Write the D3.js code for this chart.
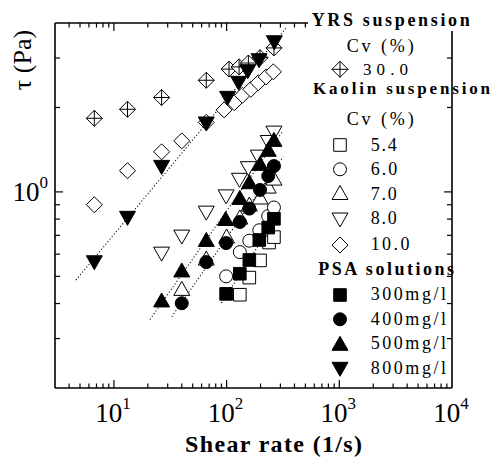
<!DOCTYPE html>
<html>
<head>
<meta charset="utf-8">
<script src="https://cdn.jsdelivr.net/npm/d3@7"></script>
<style>
  body { margin: 0; background: #fff; }
  svg { display: block; font-family: "Liberation Serif", "Times New Roman", serif; }
</style>
</head>
<body>
<svg width="491" height="458"></svg>
<script>
const svg = d3.select("svg");

// DATA (shear rate 1/s, shear stress Pa)
const yrs30X = [6.7, 13.2, 26.5, 66, 105, 129, 156, 198, 263];
const yrs30Y = [1.83, 1.97, 2.17, 2.50, 2.74, 2.79, 2.88, 3.01, 3.26];

const kao54X = [131, 159, 198, 238, 263];
const kao54Y = [0.43, 0.495, 0.57, 0.66, 0.69];
const kao60X = [99, 131, 159, 195, 234, 263];
const kao60Y = [0.50, 0.61, 0.67, 0.73, 0.82, 0.88];
const kao70X = [40, 66, 100, 131, 159, 198, 234, 263];
const kao70Y = [0.453, 0.581, 0.696, 0.814, 0.905, 0.959, 1.049, 1.12];
const kao80X = [26.5, 40, 66, 99, 130, 156, 191, 234, 263];
const kao80Y = [0.60, 0.69, 0.84, 0.96, 1.10, 1.21, 1.33, 1.50, 1.62];
const kao100X = [6.7, 13.2, 26.5, 40, 66, 95, 117, 138, 164, 191, 224, 260];
const kao100Y = [0.90, 1.19, 1.39, 1.52, 1.77, 1.96, 2.08, 2.21, 2.32, 2.45, 2.57, 2.68];

const psa300X = [99, 131, 159, 195, 234, 263];
const psa300Y = [0.433, 0.511, 0.572, 0.674, 0.746, 0.802];
const psa400X = [40, 66, 99, 131, 159, 198, 234, 263];
const psa400Y = [0.401, 0.562, 0.657, 0.781, 0.872, 1.016, 1.139, 1.236];
const psa500X = [26.5, 40, 66, 98, 131, 159, 198, 234, 263];
const psa500Y = [0.412, 0.527, 0.677, 0.804, 0.956, 1.087, 1.264, 1.418, 1.539];
const psa800X = [6.7, 13.2, 26.5, 66, 102, 128, 154, 194, 265];
const psa800Y = [0.559, 0.805, 1.223, 1.746, 2.155, 2.438, 2.682, 2.935, 3.401];

// dotted fit lines for PSA (end points)
const fit300 = [[90, 0.402], [298, 0.848]];
const fit400 = [[32.6, 0.359], [318, 1.335]];
const fit500 = [[20.9, 0.351], [316, 1.648]];
const fit800 = [[4.6, 0.485], [343, 3.87]];

const xPowers = [1, 2, 3, 4];
const yPowers = [0];

// SCALES
const plot = { left: 55, right: 452, top: 23, bottom: 388 };
const x = d3.scaleLog().domain([3, 1e4]).range([plot.left, plot.right]);
const y = d3.scaleLog().domain([0.2, 4]).range([plot.bottom, plot.top]);

// marker shapes
const shapes = {
  square: "M-6.3,-6.3h12.6v12.6h-12.6Z",
  circle: "M6.5,0A6.5,6.5 0 1,1 -6.5,0A6.5,6.5 0 1,1 6.5,0Z",
  up: "M0,-7L8,7L-8,7Z",
  down: "M0,7L8,-7L-8,-7Z",
  diamond: "M0,-8L8,0L0,8L-8,0Z",
  xdiamond: "M0,-8L8,0L0,8L-8,0ZM0,-8V8M-8,0H8"
};

const series = [
  { xs: yrs30X, ys: yrs30Y, shape: "xdiamond", filled: false },
  { xs: kao54X, ys: kao54Y, shape: "square", filled: false },
  { xs: kao60X, ys: kao60Y, shape: "circle", filled: false },
  { xs: kao70X, ys: kao70Y, shape: "up", filled: false },
  { xs: kao80X, ys: kao80Y, shape: "down", filled: false },
  { xs: kao100X, ys: kao100Y, shape: "diamond", filled: false },
  { xs: psa300X, ys: psa300Y, shape: "square", filled: true },
  { xs: psa400X, ys: psa400Y, shape: "circle", filled: true },
  { xs: psa500X, ys: psa500Y, shape: "up", filled: true },
  { xs: psa800X, ys: psa800Y, shape: "down", filled: true }
];

// fit lines
const line = d3.line().x(d => x(d[0])).y(d => y(d[1]));
svg.append("g")
  .selectAll("path")
  .data([fit300, fit400, fit500, fit800])
  .join("path")
  .attr("d", line)
  .attr("fill", "none")
  .attr("stroke", "#000")
  .attr("stroke-width", 1.1)
  .attr("stroke-dasharray", "1.1,2.2");

// markers
const marks = svg.append("g");
series.forEach(s => {
  marks.append("g")
    .selectAll("path")
    .data(s.xs.map((v, i) => [v, s.ys[i]]))
    .join("path")
    .attr("transform", d => `translate(${x(d[0])},${y(d[1])})`)
    .attr("d", shapes[s.shape])
    .attr("fill", s.filled ? "#000" : "#fff")
    .attr("stroke", "#000")
    .attr("stroke-width", 1);
});

// FRAME
const frame = svg.append("g").attr("stroke", "#000").attr("stroke-width", 1.6);
frame.append("line").attr("x1", plot.left).attr("x2", plot.left).attr("y1", plot.top).attr("y2", plot.bottom);
frame.append("line").attr("x1", plot.left).attr("x2", plot.right).attr("y1", plot.bottom).attr("y2", plot.bottom);
frame.append("line").attr("x1", plot.left).attr("x2", 308).attr("y1", plot.top).attr("y2", plot.top);
frame.append("line").attr("x1", plot.right).attr("x2", plot.right).attr("y1", 31).attr("y2", plot.bottom);

// ticks (inward)
const isMajor = v => Math.abs(Math.log10(v) - Math.round(Math.log10(v))) < 1e-6;
const ticks = svg.append("g").attr("stroke", "#000").attr("stroke-width", 1.2);
x.ticks().forEach(v => {
  const len = isMajor(v) ? 8 : 4.5;
  const px = x(v);
  if (px <= plot.left + 1 || px >= plot.right - 1) return;
  ticks.append("line").attr("x1", px).attr("x2", px).attr("y1", plot.bottom).attr("y2", plot.bottom - len);
  if (px < 306) ticks.append("line").attr("x1", px).attr("x2", px).attr("y1", plot.top).attr("y2", plot.top + len);
});
y.ticks().forEach(v => {
  const len = isMajor(v) ? 8 : 5;
  const py = y(v);
  if (py <= plot.top + 1 || py >= plot.bottom - 1) return;
  ticks.append("line").attr("x1", plot.left).attr("x2", plot.left + len).attr("y1", py).attr("y2", py);
  if (py > 33) ticks.append("line").attr("x1", plot.right).attr("x2", plot.right - len).attr("y1", py).attr("y2", py);
});

// tick labels
const xl = svg.append("g").attr("font-size", 27).attr("text-anchor", "middle");
xPowers.forEach(p => {
  const t = xl.append("text").attr("x", x(Math.pow(10, p)) - 1).attr("y", 421.5);
  t.append("tspan").text("10");
  t.append("tspan").attr("dy", -13).attr("font-size", 17).text(p);
});
yPowers.forEach(p => {
  const t = svg.append("text").attr("font-size", 27).attr("text-anchor", "end")
    .attr("x", 48).attr("y", y(Math.pow(10, p)) + 9);
  t.append("tspan").text("10");
  t.append("tspan").attr("dy", -13).attr("font-size", 17).text(p);
});

// axis titles
svg.append("text")
  .attr("x", 185).attr("y", 452)
  .attr("font-size", 24).attr("font-weight", "bold")
  .attr("textLength", 177).attr("lengthAdjust", "spacing")
  .text("Shear rate (1/s)");
svg.append("text")
  .attr("transform", "translate(31,60) rotate(-90)")
  .attr("text-anchor", "middle")
  .attr("font-size", 26)
  .text("τ (Pa)");

// LEGEND
const legendText = [
  { t: "YRS suspension", x: 311.7, y: 26, w: 158, bold: true },
  { t: "Cv (%)", x: 346.7, y: 52, w: 67 },
  { t: "30.0", x: 363, y: 74.5, w: 45, fs: 17 },
  { t: "Kaolin suspension", x: 313, y: 93.5, w: 177, bold: true, fs: 17 },
  { t: "Cv (%)", x: 346.7, y: 125, w: 67 },
  { t: "5.4", x: 370.7, y: 151, w: 26 },
  { t: "6.0", x: 370.7, y: 175, w: 26.5 },
  { t: "7.0", x: 370.7, y: 199.5, w: 26 },
  { t: "8.0", x: 370.7, y: 224, w: 26 },
  { t: "10.0", x: 370.7, y: 250, w: 38.7 },
  { t: "PSA solutions", x: 318.3, y: 275, w: 135.7, bold: true },
  { t: "300mg/l", x: 370.7, y: 300, w: 75.3 },
  { t: "400mg/l", x: 370.7, y: 325, w: 75.3 },
  { t: "500mg/l", x: 370.7, y: 349.3, w: 75.3 },
  { t: "800mg/l", x: 370.7, y: 374, w: 75.3 }
];
const legendMarks = [
  { s: "xdiamond", f: false, y: 69.3 },
  { s: "square", f: false, y: 145 },
  { s: "circle", f: false, y: 169.3 },
  { s: "up", f: false, y: 192.5 },
  { s: "down", f: false, y: 220 },
  { s: "diamond", f: false, y: 245 },
  { s: "square", f: true, y: 295 },
  { s: "circle", f: true, y: 319.3 },
  { s: "up", f: true, y: 343.3 },
  { s: "down", f: true, y: 369.3 }
];
const legend = svg.append("g");
legend.selectAll("text")
  .data(legendText)
  .join("text")
  .attr("x", d => d.x).attr("y", d => d.y)
  .attr("font-size", d => d.fs || 18)
  .attr("font-weight", d => d.bold ? "bold" : "normal")
  .attr("textLength", d => d.w).attr("lengthAdjust", "spacing")
  .text(d => d.t);
legend.selectAll("path")
  .data(legendMarks)
  .join("path")
  .attr("transform", d => `translate(340,${d.y})`)
  .attr("d", d => shapes[d.s])
  .attr("fill", d => d.f ? "#000" : "#fff")
  .attr("stroke", "#000");
</script>
</body>
</html>
